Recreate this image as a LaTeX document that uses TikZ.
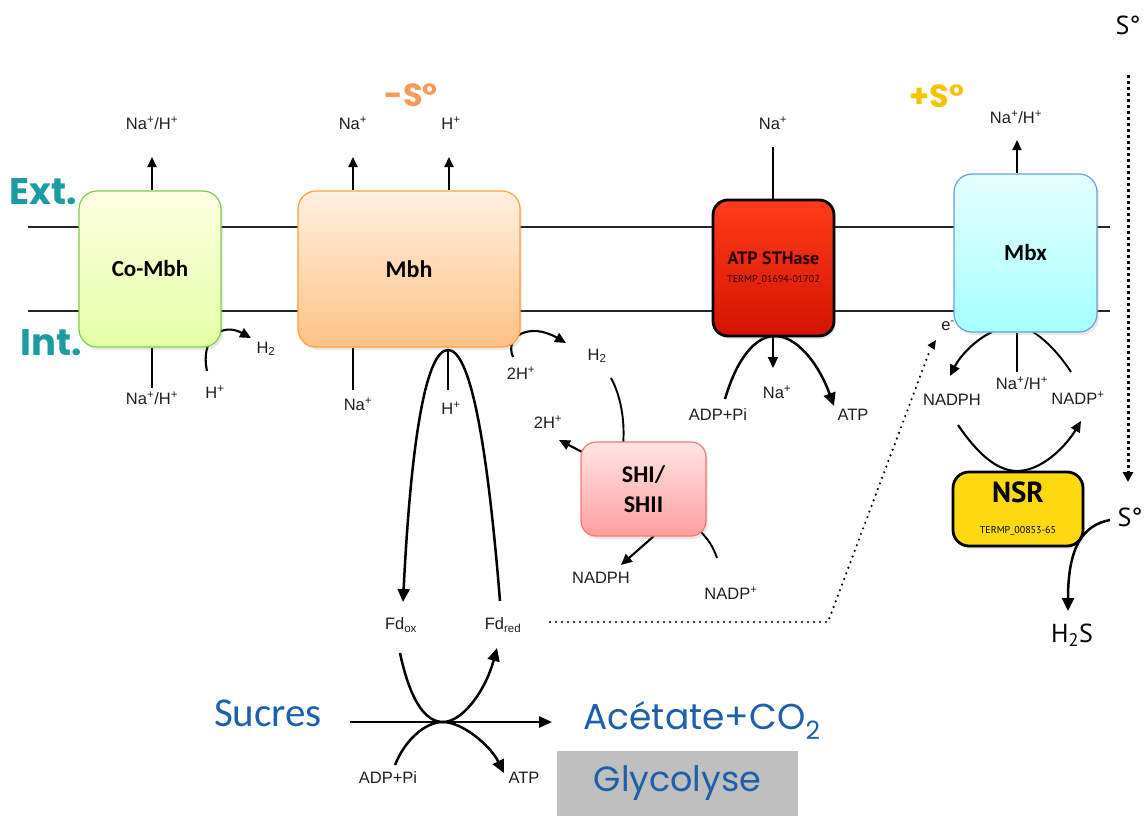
\documentclass[tikz,border=0pt]{standalone}
\usepackage{fontspec}
\setmainfont{Liberation Sans}
\newfontfamily\calfont{Carlito}
\newfontfamily\gothfont{Poppins}
\newfontfamily\dinfont{PT Sans}
\usetikzlibrary{arrows.meta,shadows,backgrounds}
\definecolor{teal1}{HTML}{1C9CA0}
\definecolor{blue1}{HTML}{1D5FAA}
\definecolor{orange1}{HTML}{F59A5A}
\definecolor{gold1}{HTML}{F8C200}
\definecolor{labgray}{HTML}{1E1E1E}
\newcommand{\lblsize}{\fontsize{16.5}{18}\selectfont}
\newcommand{\sps}[1]{\textsuperscript{#1}}
\tikzset{
  mbox/.style={rounded corners=18pt, line width=1.2pt, align=center, inner sep=0pt,
    drop shadow={opacity=0.18, shadow xshift=2pt, shadow yshift=-3pt}},
  lbl/.style={inner sep=0pt, text=labgray, font=\lblsize},
  membrane/.style={line width=2.4pt, draw=black!85},
  thin/.style={line width=1.9pt},
  uparr/.style={line width=1.9pt, -{Triangle[length=10pt,width=9pt]}},
  bigarr/.style={line width=2.5pt, -{Triangle[length=13pt,width=12pt]}},
  midarr/.style={line width=2.1pt, -{Triangle[length=11pt,width=10pt]}},
  dotline/.style={line width=2.4pt, dash pattern=on 0pt off 6pt, line cap=round},
}
\begin{document}
\begin{tikzpicture}[x=1pt,y=-1pt]
\useasboundingbox (0,0) rectangle (1148,816);

% ---------- boxes ----------
\node[mbox, minimum width=142pt, minimum height=156pt, draw=green!45!olive!70,
  top color=green!8!yellow!12, bottom color=green!30!yellow!35,
  font=\calfont\bfseries\fontsize{23}{26}\selectfont] (comb) at (150,269) {Co-Mbh};
\node[mbox, minimum width=222pt, minimum height=156pt, draw=orange!75,
  top color=orange!12, bottom color=orange!48,
  font=\calfont\bfseries\fontsize{24}{26}\selectfont] (mbh) at (409,269) {Mbh};
\node[mbox, rounded corners=15pt, line width=2.8pt, minimum width=121pt, minimum height=136pt, draw=black,
  top color=red!70!orange!90!white, bottom color=red!80!black!85!orange, text=black!85!red,
  font=\dinfont\bfseries\fontsize{18}{20}\selectfont] (atp) at (773.5,268)
  {ATP STHase\\[-2pt]{\fontsize{10}{11}\selectfont\mdseries TERMP\_01694-01702}};
\node[mbox, minimum width=143pt, minimum height=158pt, draw=cyan!55!blue!60,
  top color=cyan!10, bottom color=cyan!35,
  font=\calfont\bfseries\fontsize{23}{26}\selectfont] (mbx) at (1025.5,253) {Mbx};
\node[mbox, rounded corners=15pt, minimum width=125pt, minimum height=94pt, draw=red!55,
  top color=red!10, bottom color=red!38,
  font=\calfont\bfseries\fontsize{24}{30}\selectfont] (shi) at (643.5,489) {SHI/\\SHII};
\node[mbox, rounded corners=16pt, line width=2.8pt, minimum width=130pt, minimum height=74pt, draw=black,
  fill=yellow!75!orange!95, font=\dinfont\bfseries\fontsize{29}{30}\selectfont] (nsr) at (1018,509)
  {NSR\\[1pt]{\fontsize{10}{11}\selectfont\mdseries TERMP\_00853-65}};
\node[fill=black!25, minimum width=241pt, minimum height=65pt, inner sep=0pt,
  font=\gothfont\fontsize{35}{37}\selectfont, text=blue1] (gly) at (677.5,783.5) {Glycolyse};

% ---------- big texts ----------
\node[text=teal1, font=\gothfont\bfseries\fontsize{37}{40}\selectfont, inner sep=0pt] (ext) at (43,192) {Ext.};
\node[text=teal1, font=\gothfont\bfseries\fontsize{37}{40}\selectfont, inner sep=0pt] (int) at (51,343) {Int.};
\node[text=orange1, font=\gothfont\bfseries\fontsize{32}{34}\selectfont, inner sep=0pt] (minusS) at (411,95) {-S°};
\node[text=gold1, font=\gothfont\bfseries\fontsize{32}{34}\selectfont, inner sep=0pt] (plusS) at (937,96) {+S°};
\node[text=blue1, font=\calfont\fontsize{41}{43}\selectfont, inner sep=0pt] (sucres) at (268,713) {Sucres};
\node[text=blue1, font=\gothfont\fontsize{36}{38}\selectfont, inner sep=0pt] (acet) at (702,720) {Acétate+CO\textsubscript{2}};
\node[font=\dinfont\fontsize{26}{28}\selectfont, inner sep=0pt] (stop) at (1128,25) {S°};
\node[font=\dinfont\fontsize{26}{28}\selectfont, inner sep=0pt] (sright) at (1130,517) {S°};
\node[font=\dinfont\fontsize{26}{28}\selectfont, inner sep=0pt] (h2s) at (1072,635) {H\textsubscript{2}S};

% ---------- small labels ----------
\node[lbl] (cu) at (152,123) {Na\sps{+}/H\sps{+}};
\node[lbl] (cd) at (152,398) {Na\sps{+}/H\sps{+}};
\node[lbl] (ch2) at (266,349) {H\textsubscript{2}};
\node[lbl] (chp) at (215,392) {H\sps{+}};
\node[lbl] (mu1) at (353,123) {Na\sps{+}};
\node[lbl] (mu2) at (451,123) {H\sps{+}};
\node[lbl] (md1) at (358,404) {Na\sps{+}};
\node[lbl] (md2) at (451,408) {H\sps{+}};
\node[lbl] (m2h) at (521,373) {2H\sps{+}};
\node[lbl] (mh2) at (597,356) {H\textsubscript{2}};
\node[lbl] (s2h) at (548,422) {2H\sps{+}};
\node[lbl] (snadph) at (601,578) {NADPH};
\node[lbl] (snadp) at (731,593) {NADP\sps{+}};
\node[lbl] (au) at (773,123) {Na\sps{+}};
\node[lbl] (ad) at (777,392) {Na\sps{+}};
\node[lbl] (aadp) at (718,415) {ADP+Pi};
\node[lbl] (aatp) at (853,415) {ATP};
\node[lbl] (xu) at (1016,117) {Na\sps{+}/H\sps{+}};
\node[lbl] (xd) at (1022,383) {Na\sps{+}/H\sps{+}};
\node[lbl] (xnadph) at (952,400) {NADPH};
\node[lbl] (xnadp) at (1078,398) {NADP\sps{+}};
\node[lbl] (em) at (948,326) {e\sps{-}};
\node[lbl] (fdox) at (401,625) {Fd\textsubscript{ox}};
\node[lbl] (fdred) at (503,625) {Fd\textsubscript{red}};
\node[lbl] (gadp) at (388,778) {ADP+Pi};
\node[lbl] (gatp) at (524,778) {ATP};

% ---------- connectors behind boxes ----------
\begin{pgfonlayer}{background}
\coordinate (ml1) at (28,227); \coordinate (mr1) at (1110,227);
\coordinate (ml2) at (28,311); \coordinate (mr2) at (1110,311);
\draw[membrane] (ml1) -- (mr1);
\draw[membrane] (ml2) -- (mr2);
% Co-Mbh
\draw[uparr] (comb.north -| 152,0) -- (152,157);
\draw[thin] (comb.south -| 152,0) -- (152,388);
\draw[midarr] (207,371) .. controls (200,338) and (222,322) .. (251,338);
% Mbh
\draw[uparr] (mbh.north -| 353,0) -- (353,157);
\draw[uparr] (mbh.north -| 449,0) -- (449,157);
\draw[thin] (mbh.south -| 353,0) -- (353,390);
\draw[midarr] (513,357) .. controls (504,336) and (530,322) .. (566,343);
% ATP STHase
\draw[thin] (773,147) -- (atp.north -| 773,0);
\draw[midarr] (atp.south -| 773,0) -- (773,368);
\draw[bigarr] (725,399) .. controls (738,355) and (757,336) .. (775,336)
  .. controls (796,336) and (818,362) .. (834,406);
% Mbx
\draw[uparr] (mbx.north -| 1017,0) -- (1017,140);
\draw[thin] (mbx.south -| 1017,0) -- (1017,372);
\draw[midarr] (992,332) .. controls (975,340) and (960,356) .. (950,376);
\draw[thin] (1071,372) .. controls (1060,355) and (1046,340) .. (1033,332);
% SHI
\draw[thin] (611,378) .. controls (622,398) and (625,425) .. (623,445);
\draw[midarr] (586,454) -- (559,440);
\draw[midarr] (654,536) -- (621,565);
\draw[thin] (717,558) .. controls (713,546) and (707,538) .. (700,531);
\end{pgfonlayer}

% ---------- connectors in front ----------
\draw[thin] (448,350) -- (448,390);
\draw[bigarr] (500,601) .. controls (487,440) and (470,350) .. (448,350)
  .. controls (426,350) and (411,440) .. (403,602);
% NSR loop
\draw[midarr] (958,425) .. controls (975,450) and (995,471) .. (1017,471)
  .. controls (1042,471) and (1066,446) .. (1081,421);
% S to H2S
\draw[bigarr] (1110,520) .. controls (1084,525) and (1068,545) .. (1068,611);
% dotted vertical
\draw[line width=3pt, dash pattern=on 2.5pt off 3.5pt, -{Triangle[length=10pt,width=10pt]}]
  (stop.south |- 0,75) -- (1128,482);
% dotted Fd -> e-
\draw[dotline] (550,622) -- (828,622) -- (930,350);
\draw[-{Triangle[length=9pt,width=8pt]}, line width=1.5pt] (932,346) -- (936,340);
% glycolysis
\draw[line width=2.5pt, -{Triangle[length=13pt,width=11pt]}] (350,722) -- (552,722);
\draw[bigarr] (400,653) .. controls (410,700) and (425,722) .. (443,722)
  .. controls (462,722) and (485,692) .. (497,648);
\draw[bigarr] (395,765) .. controls (405,740) and (425,722) .. (443,722)
  .. controls (462,722) and (490,745) .. (504,773);
\end{tikzpicture}
\end{document}
